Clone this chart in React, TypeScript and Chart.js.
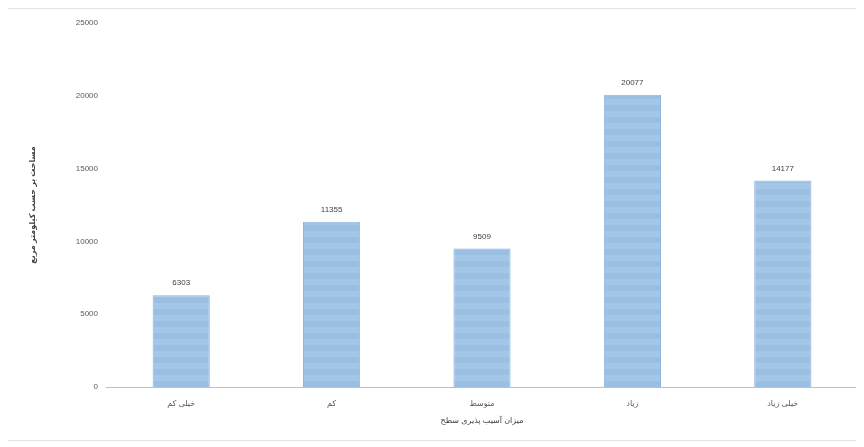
import React, { useEffect, useRef } from "react";
import { Chart, registerables } from "chart.js";

Chart.register(...registerables);

const categories = ["خیلی کم", "کم", "متوسط", "زیاد", "خیلی زیاد"];
const areaValues = [6303, 11355, 9509, 20077, 14177];
const yTicks = [0, 5000, 10000, 15000, 20000, 25000];
const xTitle = "میزان آسیب پذیری سطح";
const yTitle = "مساحت بر حسب کیلومتر مربع";

const FONT = "'Liberation Sans', 'DejaVu Sans', sans-serif";

function makeStripePattern(): CanvasPattern | string {
  const c = document.createElement("canvas");
  c.width = 4;
  c.height = 12;
  const ctx = c.getContext("2d");
  if (!ctx) return "#9fc2e5";
  ctx.fillStyle = "#9bbfe3";
  ctx.fillRect(0, 0, 4, 6);
  ctx.fillStyle = "#a4c6e7";
  ctx.fillRect(0, 6, 4, 6);
  const p = ctx.createPattern(c, "repeat");
  return p || "#9fc2e5";
}

const valueLabels = {
  id: "valueLabels",
  afterDatasetsDraw(chart: any) {
    const ctx = chart.ctx;
    const meta = chart.getDatasetMeta(0);
    ctx.save();
    ctx.font = `8px ${FONT}`;
    ctx.fillStyle = "#404040";
    ctx.textAlign = "center";
    ctx.textBaseline = "middle";
    meta.data.forEach((bar: any, i: number) => {
      ctx.fillText(String(areaValues[i]), bar.x, bar.y - 12);
    });
    ctx.restore();
  },
};

export default function App() {
  const ref = useRef<HTMLCanvasElement | null>(null);
  useEffect(() => {
    if (!ref.current) return;
    const chart = new Chart(ref.current, {
      type: "bar",
      data: {
        labels: categories,
        datasets: [
          {
            data: areaValues,
            backgroundColor: makeStripePattern() as any,
            borderColor: "#8db3db",
            borderWidth: 1,
            categoryPercentage: 1,
            barPercentage: 0.38,
          },
        ],
      },
      options: {
        animation: false,
        responsive: true,
        maintainAspectRatio: false,
        layout: { padding: { left: 20, right: 2, top: 14, bottom: 14 } },
        plugins: {
          legend: { display: false },
          tooltip: { enabled: false },
        },
        scales: {
          x: {
            grid: { display: false, drawTicks: false },
            border: { display: true, color: "#bfbfbf", width: 1 },
            ticks: {
              color: "#595959",
              font: { family: FONT, size: 8 },
              padding: 12,
              maxRotation: 0,
            },
            title: {
              display: true,
              text: xTitle,
              color: "#404040",
              font: { family: FONT, size: 8 },
              padding: { top: 4, bottom: 0 },
            },
            afterFit(scale: any) {
              scale.height = 39;
            },
          },
          y: {
            min: 0,
            max: 25000,
            grid: { display: false, drawTicks: false },
            border: { display: false },
            afterBuildTicks(scale: any) {
              scale.ticks = yTicks.map((v) => ({ value: v }));
            },
            ticks: {
              color: "#595959",
              font: { family: FONT, size: 8 },
              padding: 8,
              callback: (v: any) => String(v),
            },
            title: {
              display: true,
              text: yTitle,
              color: "#404040",
              font: { family: FONT, size: 8, weight: "bold" },
              padding: { top: 0, bottom: 0 },
            },
            afterFit(scale: any) {
              scale.width = 78;
            },
          },
        },
      },
      plugins: [valueLabels],
    });
    return () => chart.destroy();
  }, []);

  return (
    <div
      style={{
        width: 854,
        height: 433,
        marginLeft: -1,
        border: "1px solid #e3e3e3",
        boxSizing: "border-box",
        background: "#fff",
      }}
    >
      <div style={{ position: "relative", width: 852, height: 431 }}>
        <canvas ref={ref} />
      </div>
    </div>
  );
}
